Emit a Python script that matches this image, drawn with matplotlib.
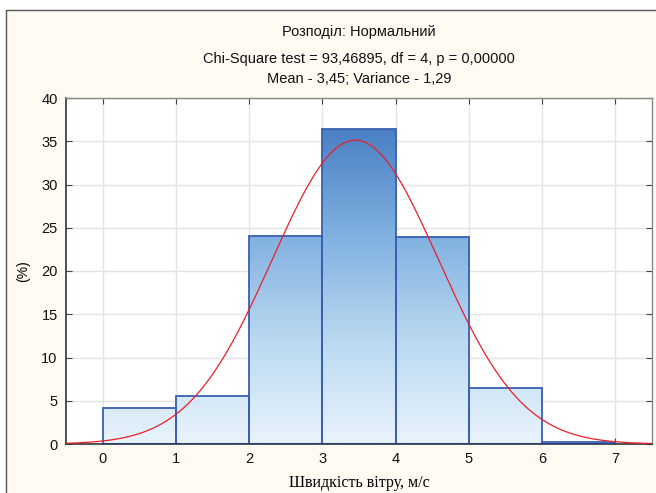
import numpy as np
import matplotlib
matplotlib.use("Agg")
import matplotlib.pyplot as plt
from matplotlib.colors import LinearSegmentedColormap
from matplotlib.patches import Rectangle

# data
bin_left = [0, 1, 2, 3, 4, 5, 6]
percent = [4.2, 5.6, 24.1, 36.4, 23.9, 6.5, 0.2]
mean = 3.45
variance = 1.29
title_lines = ["Розподіл: Нормальний",
               "Chi-Square test = 93,46895, df = 4, p = 0,00000",
               "Mean - 3,45; Variance - 1,29"]

fig = plt.figure(figsize=(6.56, 4.93), dpi=100)
fig.patch.set_facecolor("white")
# cream panel with border
fig.patches.append(Rectangle((6 / 656, -0.01), 1.0, 1 - 10 / 493 + 0.01,
                             transform=fig.transFigure, facecolor="#fffbf3",
                             edgecolor="#555555", linewidth=1.0, zorder=-10))

ax = fig.add_axes([66 / 656, 1 - 444 / 493, (652 - 66) / 656, (444 - 98) / 493])
ax.set_facecolor("white")
ax.set_xlim(-0.5, 7.5)
ax.set_ylim(0, 40)

cmap = LinearSegmentedColormap.from_list(
    "bl", ["#e9f4fc", "#b9d8f0", "#7fb0e0", "#4a7fc4"])
grad = np.linspace(0, 1, 256).reshape(-1, 1)
for x0, h in zip(bin_left, percent):
    im = ax.imshow(grad, cmap=cmap, origin="lower", aspect="auto",
                   extent=(-0.5, 7.5, 0, 36.5), zorder=2)
    r = Rectangle((x0, 0), 1, h, facecolor="none", edgecolor="#3a5fb2",
                  linewidth=1.3, zorder=3)
    ax.add_patch(r)
    clip = Rectangle((x0, 0), 1, h, transform=ax.transData)
    im.set_clip_path(clip)
ax.plot([0, 7], [0, 0], color="#23408f", linewidth=2.2, zorder=4)

xs = np.linspace(-0.5, 7.5, 400)
sd = np.sqrt(variance)
ys = 100 / (sd * np.sqrt(2 * np.pi)) * np.exp(-(xs - mean) ** 2 / (2 * variance))
ax.plot(xs, ys, color="#e8202a", linewidth=0.9, zorder=5)

ax.set_xticks(range(0, 8))
ax.set_yticks(range(0, 41, 5))
ax.grid(True, color="#e3e3e3", linewidth=1.0, zorder=0)
ax.set_axisbelow(True)
ax.tick_params(direction="in", top=True, right=True, length=4,
               color="#444444", labelsize=10.5, labelcolor="#111111", pad=6)
for lab in ax.get_xticklabels() + ax.get_yticklabels():
    lab.set_family("Liberation Sans")
for s in ["left", "bottom"]:
    ax.spines[s].set_color("#333333")
    ax.spines[s].set_linewidth(1.2)
for s in ["top", "right"]:
    ax.spines[s].set_color("#888888")
    ax.spines[s].set_linewidth(1.0)

ax.set_ylabel("(%)", family="Liberation Sans", fontsize=10)
ax.yaxis.set_label_coords(-0.061, 0.5)
ax.set_xlabel("Швидкість вітру, м/с", family="Liberation Serif",
              fontsize=11.5, va="center")
ax.xaxis.set_label_coords(0.5, -0.112)

for txt, y in zip(title_lines, [32, 59, 79]):
    fig.text(359 / 656, 1 - y / 493, txt, ha="center", va="center",
             family="Liberation Sans", fontsize=10.5, color="#111111")

fig.savefig("out.png", dpi=100, facecolor=fig.get_facecolor())
